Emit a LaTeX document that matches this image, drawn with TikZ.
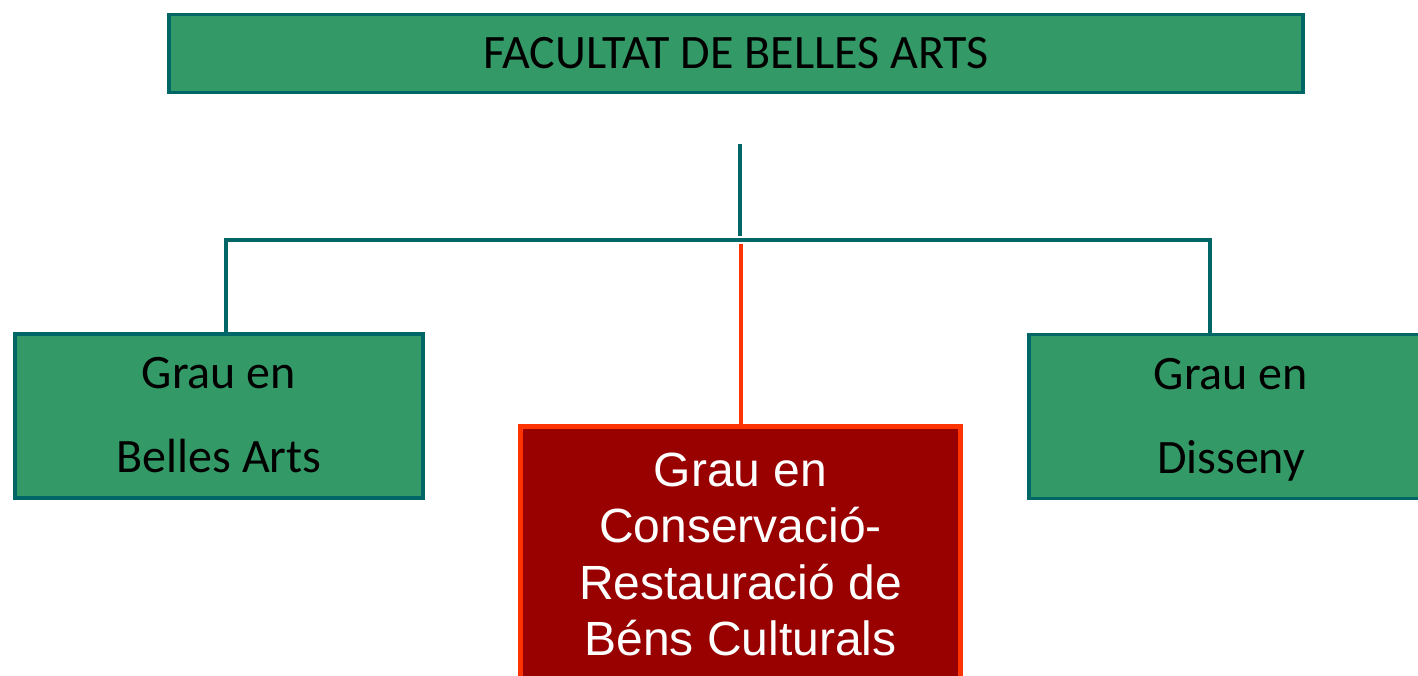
\documentclass[tikz,border=0pt]{standalone}
\usepackage{fontspec}
\newfontfamily\calfont{Carlito}
\newfontfamily\arialfont{Liberation Sans}
\definecolor{boxgreen}{HTML}{339966}
\definecolor{tealline}{HTML}{006666}
\definecolor{darkred}{HTML}{990000}
\definecolor{brightred}{HTML}{FF3300}
\tikzset{
  greenbox/.style={draw=tealline, fill=boxgreen, line width=3.5pt, rectangle, outer sep=0pt, inner sep=0pt, align=center, text=black},
  redbox/.style={draw=brightred, fill=darkred, line width=5pt, rectangle, outer sep=0pt, inner xsep=0pt, inner ysep=26.5pt, align=center, text=white},
  conn/.style={draw=tealline, line width=4pt},
  redconn/.style={draw=brightred, line width=4pt}
}
\begin{document}
\begin{tikzpicture}[x=1pt,y=-1pt]
\useasboundingbox (0,0) rectangle (1418,675);
\node[greenbox, minimum width=1134pt, minimum height=78pt, font={\calfont\fontsize{48}{58}\selectfont}] (fac) at (736,53.5) {\raisebox{-1.5pt}{FACULTAT DE BELLES ARTS}};
\node[greenbox, minimum width=408pt, minimum height=164pt, font={\calfont\fontsize{48}{84}\selectfont}] (lb) at (219,416) {\rule{0pt}{37pt}Grau en\\Belles Arts\vphantom{y}};
\node[greenbox, minimum width=404pt, minimum height=164pt, font={\calfont\fontsize{48}{84}\selectfont}] (rb) at (1231,416.5) {\rule{0pt}{37pt}Grau en\\Disseny};
\node[redbox, minimum width=440pt, anchor=north, font={\arialfont\fontsize{48}{56.5}\selectfont}] (cr) at (740.5,426) {Grau en\\Conservació-\\Restauració de\\Béns Culturals};
\coordinate (hub) at (740,144);
\coordinate (bar) at (740,240);
\draw[conn] (hub) -- ++(0,92);
\draw[conn] ([xshift=7pt]lb.north) |- (bar) -| ([xshift=-21pt]rb.north);
\draw[redconn] (cr.north) -- ++(0,-182);
\end{tikzpicture}
\end{document}
